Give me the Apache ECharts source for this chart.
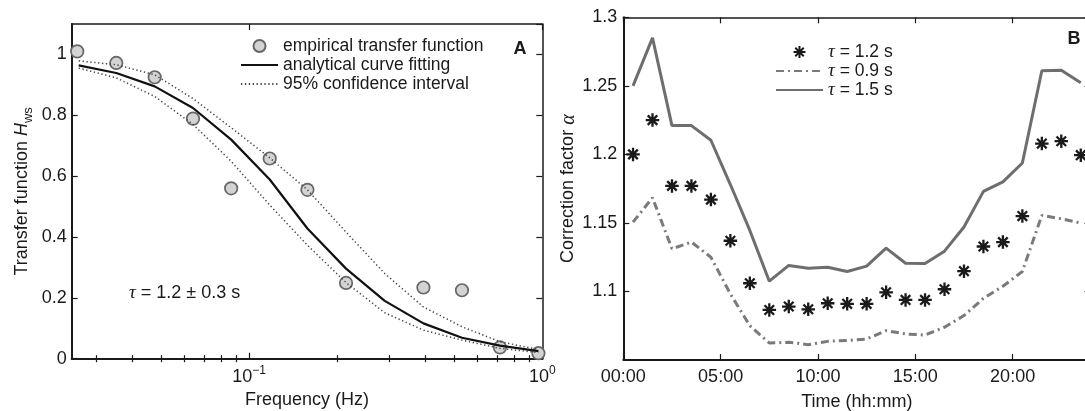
<!DOCTYPE html>
<html>
<head>
<meta charset="utf-8">
<script src="https://cdn.jsdelivr.net/npm/echarts@6/dist/echarts.min.js"></script>
<style>
html, body { margin: 0; padding: 0; background: #fff; }
#my_chart { width: 1085px; height: 411px; }
</style>
</head>
<body>
<div id="my_chart"></div>
<script>
// panel A: transfer function vs frequency
var freqEmp = [0.0259, 0.0352, 0.0476, 0.0643, 0.0868, 0.1175, 0.158, 0.214, 0.393, 0.532, 0.717, 0.97];
var hEmp = [1.010, 0.972, 0.925, 0.789, 0.560, 0.658, 0.555, 0.249, 0.234, 0.225, 0.037, 0.018];
var freqFit = [0.0262, 0.0352, 0.0476, 0.0643, 0.0868, 0.1175, 0.158, 0.214, 0.290, 0.393, 0.532, 0.717, 0.97];
var hFit = [0.964, 0.939, 0.895, 0.824, 0.720, 0.589, 0.428, 0.296, 0.190, 0.116, 0.069, 0.043, 0.025];
var hUpper = [0.979, 0.966, 0.933, 0.855, 0.759, 0.660, 0.555, 0.416, 0.280, 0.170, 0.105, 0.056, 0.030];
var hLower = [0.955, 0.923, 0.862, 0.770, 0.649, 0.505, 0.373, 0.250, 0.151, 0.094, 0.061, 0.034, 0.020];
var freqMajor = [0.1, 1];
var freqMinor = [0.03, 0.04, 0.05, 0.06, 0.07, 0.08, 0.09, 0.2, 0.3, 0.4, 0.5, 0.6, 0.7, 0.8, 0.9];

// panel B: correction factor over the day
var hours = [0.5, 1.5, 2.5, 3.5, 4.5, 5.5, 6.5, 7.5, 8.5, 9.5, 10.5, 11.5,
    12.5, 13.5, 14.5, 15.5, 16.5, 17.5, 18.5, 19.5, 20.5, 21.5, 22.5, 23.5];
var alpha12 = [1.200, 1.225, 1.177, 1.177, 1.167, 1.137, 1.106, 1.0865, 1.089, 1.087, 1.0914, 1.091,
    1.091, 1.0994, 1.0938, 1.0938, 1.1016, 1.1148, 1.1328, 1.136, 1.155, 1.2079, 1.2096, 1.1994];
var alpha09 = [1.1506, 1.1684, 1.1311, 1.136, 1.125, 1.0982, 1.075, 1.0624, 1.0629, 1.0612, 1.0636, 1.0643,
    1.0653, 1.0714, 1.069, 1.0682, 1.0739, 1.0824, 1.095, 1.1038, 1.1146, 1.1555, 1.153, 1.1499];
var alpha15 = [1.25, 1.285, 1.221, 1.221, 1.2103, 1.178, 1.1445, 1.1075, 1.119, 1.117, 1.1177, 1.1146,
    1.1185, 1.1316, 1.1206, 1.1204, 1.1294, 1.147, 1.173, 1.1799, 1.1937, 1.261, 1.2613, 1.2522];

var SANS = '"Liberation Sans", Arial, sans-serif';
var SERIF = '"Liberation Serif", "DejaVu Serif", serif';
var INK = '#1a1a1a';
var STAR = 'path://M0,-10L0,10M-10,0L10,0M-7.07,-7.07L7.07,7.07M-7.07,7.07L7.07,-7.07';
var NO_SYMBOL = {color: 'rgba(0,0,0,0)', borderWidth: 0};

function pairs(xs, ys) {
    var out = [];
    for (var i = 0; i < xs.length; i++) {
        out.push([xs[i], ys[i]]);
    }
    return out;
}

function pad(num, n) {
    var s = String(num);
    while (s.length < n) {
        s = '0' + s;
    }
    return s;
}

function boxAxis(extra) {
    var a = {
        axisLine: {show: true, onZero: false, lineStyle: {color: INK, width: 1.5}},
        axisTick: {show: true, inside: true, length: 6, lineStyle: {color: INK, width: 1.2}},
        axisLabel: {show: false},
        splitLine: {show: false}
    };
    for (var k in extra) {
        a[k] = extra[k];
    }
    return a;
}

var labelFont = {color: INK, fontSize: 18, fontFamily: SANS};
var logA = {type: 'log', logBase: 10, min: 0.0248, max: 1, gridIndex: 0};

var option = {
    animation: false,
    backgroundColor: '#fff',
    textStyle: {fontFamily: SANS, color: INK},
    grid: [
        {left: 71.7, top: 24, right: 542.7, bottom: 52.3, containLabel: false, outerBoundsMode: 'none'},
        {left: 623.3, top: 17.3, right: -5.5, bottom: 51, containLabel: false, outerBoundsMode: 'none'}
    ],
    xAxis: [
        // A bottom, major ticks + labels
        boxAxis(Object.assign({}, logA, {
            position: 'bottom',
            axisLine: {show: true, onZero: false, lineStyle: {color: INK, width: 2}},
            axisTick: {show: true, inside: true, length: 6, customValues: freqMajor, lineStyle: {color: INK, width: 1.2}},
            axisLabel: {
                show: true, customValues: freqMajor, margin: 6,
                formatter: function (v) {
                    var e = Math.round(Math.log(v) / Math.LN10);
                    return '{b|10}{s|' + (e < 0 ? '\u2212' + (-e) : e) + '}';
                },
                rich: {
                    b: {fontSize: 18, fontFamily: SANS, color: INK, verticalAlign: 'bottom'},
                    s: {fontSize: 12, fontFamily: SANS, color: INK, verticalAlign: 'bottom', padding: [0, 0, 9, 0]}
                }
            },
            name: 'Frequency (Hz)', nameLocation: 'middle', nameGap: 32,
            nameTextStyle: labelFont
        })),
        // A bottom minor ticks
        boxAxis(Object.assign({}, logA, {
            position: 'bottom',
            axisLine: {show: false},
            axisTick: {show: true, inside: true, length: 3.5, customValues: freqMinor, lineStyle: {color: INK, width: 1.2}}
        })),
        // A top
        boxAxis(Object.assign({}, logA, {
            position: 'top',
            axisTick: {show: true, inside: true, length: 6, customValues: freqMajor, lineStyle: {color: INK, width: 1.2}}
        })),
        boxAxis(Object.assign({}, logA, {
            position: 'top',
            axisLine: {show: false},
            axisTick: {show: true, inside: true, length: 3.5, customValues: freqMinor, lineStyle: {color: INK, width: 1.2}}
        })),
        // B bottom
        boxAxis({
            gridIndex: 1, type: 'value', min: 0, max: 24, interval: 5, position: 'bottom',
            axisLine: {show: true, onZero: false, lineStyle: {color: INK, width: 2}},
            axisLabel: {
                show: true, margin: 8, showMaxLabel: false, color: INK, fontSize: 18, fontFamily: SANS,
                formatter: function (v) { return pad(v, 2) + ':00'; }
            },
            name: 'Time (hh:mm)', nameLocation: 'middle', nameGap: 33,
            nameTextStyle: labelFont
        }),
        // B top
        boxAxis({gridIndex: 1, type: 'value', min: 0, max: 24, interval: 5, position: 'top'})
    ],
    yAxis: [
        boxAxis({
            gridIndex: 0, type: 'value', min: 0, max: 1.1, interval: 0.2, position: 'left',
            axisLine: {show: true, onZero: false, lineStyle: {color: INK, width: 2}},
            axisLabel: {show: true, margin: 5, showMaxLabel: false, color: INK, fontSize: 18, fontFamily: SANS},
            name: '{n|Transfer function }{h|H}{w|ws}', nameLocation: 'middle', nameGap: 37,
            nameTextStyle: {
                rich: {
                    n: {fontSize: 18, fontFamily: SANS, color: INK, verticalAlign: 'bottom', padding: [0, 0, 4, 0]},
                    h: {fontSize: 18, fontFamily: SANS, fontStyle: 'italic', color: INK, verticalAlign: 'bottom', padding: [0, 0, 4, 0]},
                    w: {fontSize: 13, fontFamily: SANS, color: INK, verticalAlign: 'bottom'}
                }
            }
        }),
        boxAxis({gridIndex: 0, type: 'value', min: 0, max: 1.1, interval: 0.2, position: 'right'}),
        boxAxis({
            gridIndex: 1, type: 'value', min: 1.05, max: 1.3, interval: 0.05, position: 'left',
            axisLine: {show: true, onZero: false, lineStyle: {color: INK, width: 2}},
            axisLabel: {show: true, margin: 6, showMinLabel: false, color: INK, fontSize: 18, fontFamily: SANS},
            name: '{n|Correction factor }{a|\u03b1}', nameLocation: 'middle', nameGap: 37,
            nameTextStyle: {
                rich: {
                    n: {fontSize: 18, fontFamily: SANS, color: INK},
                    a: {fontSize: 20, fontFamily: SERIF, fontStyle: 'italic', color: INK}
                }
            }
        }),
        boxAxis({gridIndex: 1, type: 'value', min: 1.05, max: 1.3, interval: 0.05, position: 'right'})
    ],
    legend: [
        {
            left: 240, top: 36.5, padding: 0, orient: 'vertical', itemWidth: 37, itemHeight: 12, itemGap: 0,
            selectedMode: false,
            data: ['empirical transfer function', 'analytical curve fitting', '95% confidence interval'],
            textStyle: {fontSize: 17.5, fontFamily: SANS, color: INK, lineHeight: 19}
        },
        {
            left: 775, top: 42.5, padding: 0, orient: 'vertical', itemWidth: 47, itemHeight: 12, itemGap: 0,
            selectedMode: false,
            data: ['t12', 't09', 't15'],
            formatter: function (name) {
                var v = {t12: '1.2', t09: '0.9', t15: '1.5'}[name];
                return '{t|\u03c4} = ' + v + ' s';
            },
            textStyle: {
                fontSize: 17.5, fontFamily: SANS, color: INK, lineHeight: 19,
                rich: {t: {fontSize: 19, fontFamily: SERIF, fontStyle: 'italic', color: INK, lineHeight: 19}}
            }
        }
    ],
    graphic: [
        {type: 'text', x: 520, y: 49, style: {text: 'A', font: 'bold 18px ' + SANS, fill: INK, align: 'center', verticalAlign: 'middle'}},
        {type: 'text', x: 1074, y: 39, style: {text: 'B', font: 'bold 18px ' + SANS, fill: INK, align: 'center', verticalAlign: 'middle'}},
        {
            type: 'text', x: 129, y: 293,
            style: {
                text: '{t|\u03c4} = 1.2 \u00b1 0.3 s', font: '18px ' + SANS, fill: INK, verticalAlign: 'middle',
                rich: {t: {fontSize: 19, fontFamily: SERIF, fontStyle: 'italic', fill: INK}}
            }
        }
    ],
    series: [
        {
            type: 'line', name: '95% confidence interval', xAxisIndex: 0, yAxisIndex: 0,
            data: pairs(freqFit, hUpper), symbol: 'none', itemStyle: NO_SYMBOL,
            lineStyle: {color: '#444', width: 1.5, type: [1.3, 2.6]}
        },
        {
            type: 'line', name: '95% confidence interval', xAxisIndex: 0, yAxisIndex: 0,
            data: pairs(freqFit, hLower), symbol: 'none', itemStyle: NO_SYMBOL,
            lineStyle: {color: '#444', width: 1.5, type: [1.3, 2.6]}
        },
        {
            type: 'line', name: 'analytical curve fitting', xAxisIndex: 0, yAxisIndex: 0,
            data: pairs(freqFit, hFit), symbol: 'none', itemStyle: NO_SYMBOL,
            lineStyle: {color: '#111', width: 2.2}
        },
        {
            type: 'scatter', name: 'empirical transfer function', xAxisIndex: 0, yAxisIndex: 0,
            data: pairs(freqEmp, hEmp), symbol: 'circle', symbolSize: 12.5, clip: false,
            itemStyle: {color: '#d3d3d3', borderColor: '#666', borderWidth: 1.7, opacity: 1}
        },
        {
            type: 'line', name: 't09', xAxisIndex: 4, yAxisIndex: 2,
            data: pairs(hours, alpha09), symbol: 'none', itemStyle: NO_SYMBOL,
            lineStyle: {color: '#7a7a7a', width: 3, type: [8, 4, 2, 4], cap: 'butt'}
        },
        {
            type: 'line', name: 't15', xAxisIndex: 4, yAxisIndex: 2,
            data: pairs(hours, alpha15), symbol: 'none', itemStyle: NO_SYMBOL,
            lineStyle: {color: '#6e6e6e', width: 3}
        },
        {
            type: 'scatter', name: 't12', xAxisIndex: 4, yAxisIndex: 2,
            data: pairs(hours, alpha12), symbol: STAR, symbolSize: 13.5, clip: false,
            itemStyle: {color: 'rgba(0,0,0,0)', borderColor: '#1a1a1a', borderWidth: 2.3, opacity: 1}
        }
    ]
};

var myChart = echarts.init(document.getElementById('my_chart'), null, {renderer: 'canvas'});
myChart.setOption(option);
</script>
</body>
</html>
